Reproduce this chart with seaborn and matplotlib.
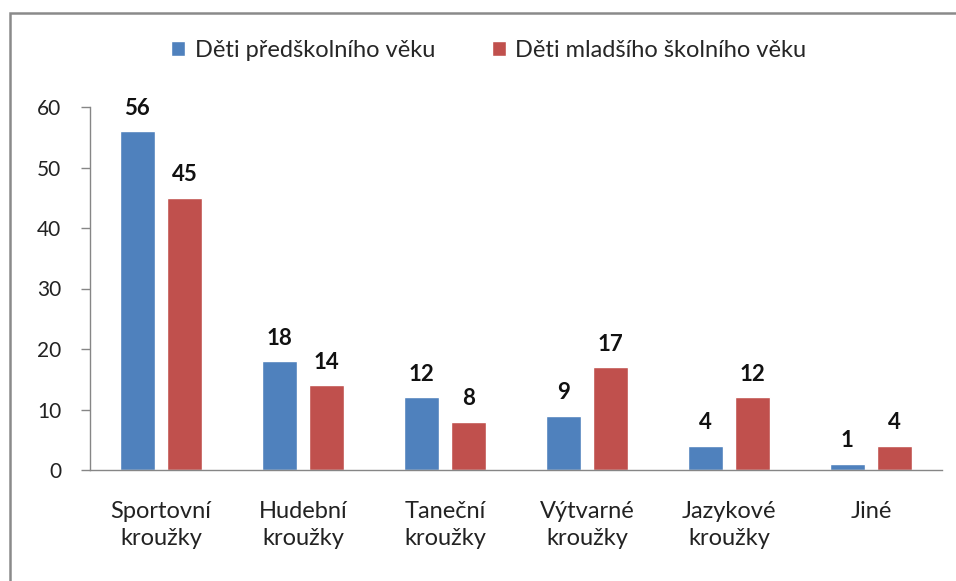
import pandas as pd
import numpy as np
import matplotlib
matplotlib.use("Agg")
import matplotlib.pyplot as plt
import seaborn as sns
from matplotlib.patches import Rectangle

# data
categories = ["Sportovní\nkroužky", "Hudební\nkroužky", "Taneční\nkroužky",
              "Výtvarné\nkroužky", "Jazykové\nkroužky", "Jiné"]
series_names = ["Děti předškolního věku", "Děti mladšího školního věku"]
preschool = [56, 18, 12, 9, 4, 1]
school = [45, 14, 8, 17, 12, 4]
colors = ["#4F81BD", "#C0504D"]

df = pd.DataFrame({
    "kategorie": categories * 2,
    "skupina": [series_names[0]] * len(categories) + [series_names[1]] * len(categories),
    "pocet": preschool + school,
})

sns.set_style("white")
plt.rcParams["font.family"] = ["Lato", "DejaVu Sans"]

fig = plt.figure(figsize=(9.56, 5.81), dpi=100)
ax = fig.add_axes([90 / 956, 111 / 581, 852 / 956, 363 / 581])

sns.barplot(data=df, x="kategorie", y="pocet", hue="skupina", palette=colors,
            saturation=1, width=0.67, gap=0.265, ax=ax, legend=True)

for cont in ax.containers:
    ax.bar_label(cont, padding=9, fontsize=16, fontweight="bold", color="#111111")

ax.set_ylim(0, 60)
ax.set_xlim(-0.5, len(categories) - 0.5)
ax.set_yticks(range(0, 61, 10))
ax.set_xlabel("")
ax.set_ylabel("")

# ticks sit on the category boundaries, labels in the middle
ax.set_xticks(np.arange(-0.5, len(categories), 1.0), minor=True)
ax.tick_params(axis="x", which="major", length=0, pad=22, labelsize=17, labelcolor="#222222")
ax.tick_params(axis="x", which="minor", length=6.5, width=1, color="#868686", direction="out")
ax.tick_params(axis="y", length=6.5, width=1, color="#868686", direction="out",
               labelsize=15, labelcolor="#222222", pad=14)
ax.tick_params(axis="both", bottom=True, left=True)
for lbl in ax.get_xticklabels():
    lbl.set_linespacing(1.4)

for side in ["top", "right"]:
    ax.spines[side].set_visible(False)
for side in ["left", "bottom"]:
    ax.spines[side].set_color("#868686")
    ax.spines[side].set_linewidth(1)

ax.legend(loc="center", bbox_to_anchor=(0.468, 1.157), ncol=2, frameon=False,
          fontsize=17, handlelength=0.6, handleheight=0.6, handletextpad=0.4,
          columnspacing=2.4)

# outer chart frame
fig.patches.append(Rectangle((10 / 956, -0.05), 1.2, 1 - 13 / 581 + 0.05,
                             transform=fig.transFigure, fill=False,
                             edgecolor="#8a8a8a", linewidth=1.8))

fig.savefig("out.png", dpi=100, facecolor="white")
